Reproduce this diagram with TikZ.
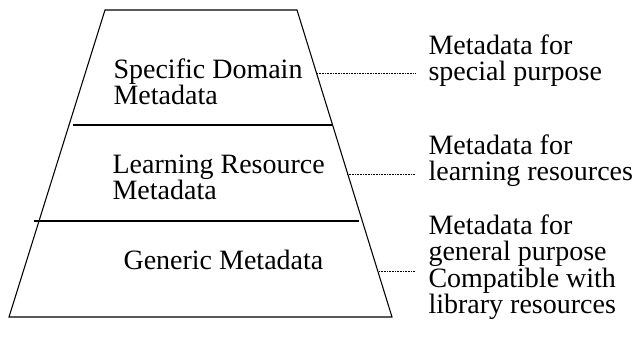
\documentclass[tikz,border=0pt]{standalone}
\usepackage{fontspec}
\setmainfont{Liberation Serif}
\begin{document}
\begin{tikzpicture}[x=0.75pt, y=-0.75pt, line width=0.8pt,
    layer/.style={anchor=north west, inner sep=0pt, align=left, font=\fontsize{21}{18}\selectfont},
    note/.style={anchor=north west, inner sep=0pt, align=left, font=\fontsize{21}{19.8}\selectfont},
    leader/.style={line width=0.4pt, dash pattern=on 0.6pt off 0.6pt, shorten >=9.75pt}]
  \useasboundingbox (0,0) rectangle (639,336);
  % pyramid and layer borders
  \draw (105,10) -- (297,10) -- (392,317) -- (9,317) -- cycle;
  \draw (73,125) -- (332,125);
  \draw (34,221) -- (359,221);
  % layer names
  \node[layer] (spec) at (113,58) {Specific Domain\\Metadata};
  \node[layer] (learn) at (112,154) {Learning Resource\\Metadata};
  \node[layer] (gen) at (123,250) {Generic Metadata};
  % notes on the right
  \node[note] (specnote) at (428,34) {Metadata for\\special purpose};
  \node[note] (learnnote) at (428,134) {Metadata for\\learning resources};
  \node[note] (gennote) at (428,214) {Metadata for\\general purpose\\Compatible with\\library resources};
  % dotted leaders from the right edge
  \coordinate (e1) at (317,73);
  \coordinate (e2) at (347,174);
  \coordinate (e3) at (379,271);
  \draw[leader] (e1) -- (e1 -| specnote.west);
  \draw[leader] (e2) -- (e2 -| learnnote.west);
  \draw[leader] (e3) -- (e3 -| gennote.west);
\end{tikzpicture}
\end{document}
